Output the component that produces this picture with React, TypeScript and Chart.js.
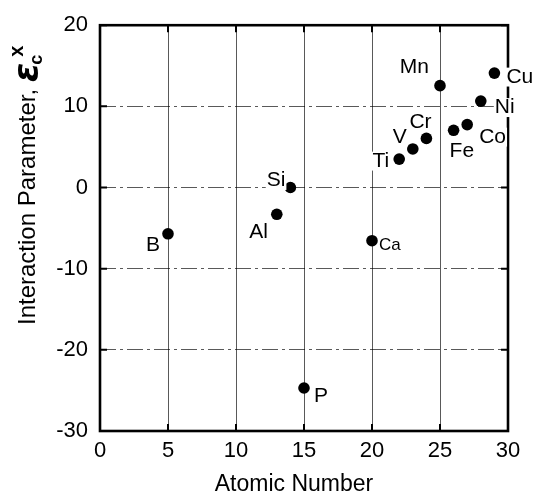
import React, { useEffect, useRef } from 'react';
import { Chart, registerables } from 'chart.js';

Chart.register(...registerables);

// ---- data ----
const ELEMENTS = ['B', 'Al', 'Si', 'P', 'Ca', 'Ti', 'V', 'Cr', 'Mn', 'Fe', 'Co', 'Ni', 'Cu'];
const ATOMIC_NUMBERS = [5, 13, 14, 15, 20, 22, 23, 24, 25, 26, 27, 28, 29];
const INTERACTION = [-5.7, -3.3, 0, -24.7, -6.55, 3.5, 4.75, 6.05, 12.55, 7.05, 7.75, 10.65, 14.1];
const X_TICKS = [0, 5, 10, 15, 20, 25, 30];
const Y_TICKS = [-30, -20, -10, 0, 10, 20];
const X_TITLE = 'Atomic Number';
const Y_TITLE = 'Interaction Parameter, ';

// ---- styles (label placement relative to its point) ----
type LabelStyle = { dx: number; dy: number; align: CanvasTextAlign; size?: number };
const LABEL_STYLE: Record<string, LabelStyle> = {
  B: { dx: -8, dy: 11, align: 'right' },
  Al: { dx: -9, dy: 18, align: 'right' },
  Si: { dx: -5, dy: -7, align: 'right' },
  P: { dx: 10, dy: 8, align: 'left' },
  Ca: { dx: 7, dy: 5, align: 'left', size: 17 },
  Ti: { dx: -10, dy: 2, align: 'right' },
  V: { dx: -6, dy: -12, align: 'right' },
  Cr: { dx: -17, dy: -16, align: 'left' },
  Mn: { dx: -11, dy: -18, align: 'right' },
  Fe: { dx: -4, dy: 21, align: 'left' },
  Co: { dx: 12, dy: 12.5, align: 'left' },
  Ni: { dx: 14, dy: 6.5, align: 'left' },
  Cu: { dx: 12, dy: 4, align: 'left' },
};

const SANS = '"Liberation Sans", Arial, Helvetica, sans-serif';

const framePlugin = {
  id: 'frameTicks',
  beforeDatasetsDraw(chart: any) {
    const { ctx, chartArea, scales } = chart;
    const { left, right, top, bottom } = chartArea;
    const xs = scales.x;
    const ys = scales.y;
    ctx.save();
    ctx.strokeStyle = '#000';
    ctx.lineWidth = 2;
    ctx.setLineDash([]);
    const tl = 7;
    ctx.beginPath();
    for (const v of X_TICKS) {
      const px = xs.getPixelForValue(v);
      ctx.moveTo(px, bottom);
      ctx.lineTo(px, bottom - tl);
      ctx.moveTo(px, top);
      ctx.lineTo(px, top + tl);
    }
    for (const v of Y_TICKS) {
      const py = ys.getPixelForValue(v);
      ctx.moveTo(left, py);
      ctx.lineTo(left + tl, py);
      ctx.moveTo(right, py);
      ctx.lineTo(right - tl, py);
    }
    ctx.stroke();
    ctx.lineWidth = 2.6;
    ctx.strokeRect(left, top, right - left, bottom - top);
    ctx.restore();
  },
};

const labelPlugin = {
  id: 'pointLabels',
  afterDatasetsDraw(chart: any) {
    const { ctx } = chart;
    const meta = chart.getDatasetMeta(0);
    ctx.save();
    meta.data.forEach((pt: any, i: number) => {
      const name = ELEMENTS[i];
      const s = LABEL_STYLE[name];
      const size = s.size ?? 21;
      ctx.font = `${size}px ${SANS}`;
      const w = ctx.measureText(name).width;
      const tx = pt.x + s.dx;
      const ty = pt.y + s.dy;
      const x0 = s.align === 'left' ? tx : tx - w;
      ctx.fillStyle = '#fff';
      ctx.fillRect(x0 - 1, ty - size * 0.45, w + 2, size * 0.9);
      ctx.fillStyle = '#000';
      ctx.textAlign = s.align;
      ctx.textBaseline = 'middle';
      ctx.fillText(name, tx, ty);
    });
    ctx.restore();
  },
};

const titlePlugin = {
  id: 'axisTitles',
  afterDraw(chart: any) {
    const { ctx, chartArea } = chart;
    const { left, right, bottom } = chartArea;
    ctx.save();
    ctx.fillStyle = '#000';
    // x title
    ctx.font = `23px ${SANS}`;
    ctx.textAlign = 'center';
    ctx.textBaseline = 'middle';
    ctx.fillText(X_TITLE, (left + right) / 2 - 10, bottom + 54);
    // y title (rotated)
    ctx.translate(left - 65, bottom - 106);
    ctx.rotate(-Math.PI / 2);
    ctx.textAlign = 'left';
    ctx.textBaseline = 'alphabetic';
    ctx.font = `24px ${SANS}`;
    ctx.fillText(Y_TITLE, 0, 0);
    let cx = ctx.measureText(Y_TITLE).width;
    ctx.font = 'bold italic 35px "DejaVu Sans", sans-serif';
    ctx.fillText('\u03B5', cx, 3);
    cx += ctx.measureText('\u03B5').width - 2;
    ctx.font = `bold 18px ${SANS}`;
    ctx.fillText('c', cx, 7);
    ctx.font = `bold 20px ${SANS}`;
    ctx.fillText('x', cx + 8, -12);
    ctx.restore();
  },
};

export default function App() {
  const ref = useRef<HTMLCanvasElement | null>(null);
  useEffect(() => {
    if (!ref.current) return;
    const chart = new Chart(ref.current, {
      type: 'scatter',
      data: {
        datasets: [
          {
            data: ATOMIC_NUMBERS.map((x, i) => ({ x, y: INTERACTION[i] })),
            backgroundColor: '#000',
            borderWidth: 0,
            pointRadius: 5.8,
            pointHoverRadius: 5.8,
          },
        ],
      },
      options: {
        responsive: false,
        animation: false,
        events: [],
        layout: { padding: { left: 0, right: 29, top: 18, bottom: 0 } },
        plugins: { legend: { display: false }, tooltip: { enabled: false } },
        scales: {
          x: {
            type: 'linear',
            min: 0,
            max: 30,
            afterBuildTicks: (s: any) => {
              s.ticks = X_TICKS.map((v) => ({ value: v }));
            },
            afterFit: (s: any) => {
              s.height = 68;
            },
            grid: { color: 'rgba(0,0,0,0.65)', lineWidth: 1, drawTicks: false },
            border: { display: false },
            ticks: { color: '#000', padding: 7, font: { size: 22, family: SANS }, maxRotation: 0 },
          },
          y: {
            type: 'linear',
            min: -30,
            max: 20,
            afterBuildTicks: (s: any) => {
              s.ticks = Y_TICKS.map((v) => ({ value: v }));
            },
            afterFit: (s: any) => {
              s.width = 100;
            },
            grid: { color: 'rgba(0,0,0,0.65)', lineWidth: 1, drawTicks: false },
            border: { display: false, dash: [16, 4, 3, 4] },
            ticks: { color: '#000', padding: 12, font: { size: 22, family: SANS } },
          },
        },
      },
      plugins: [framePlugin, labelPlugin, titlePlugin],
    });
    return () => chart.destroy();
  }, []);
  return (
    <div style={{ position: 'fixed', left: 0, top: 0, width: 537, height: 499, background: '#fff' }}>
      <canvas ref={ref} width={537} height={499} style={{ display: 'block' }} />
    </div>
  );
}
